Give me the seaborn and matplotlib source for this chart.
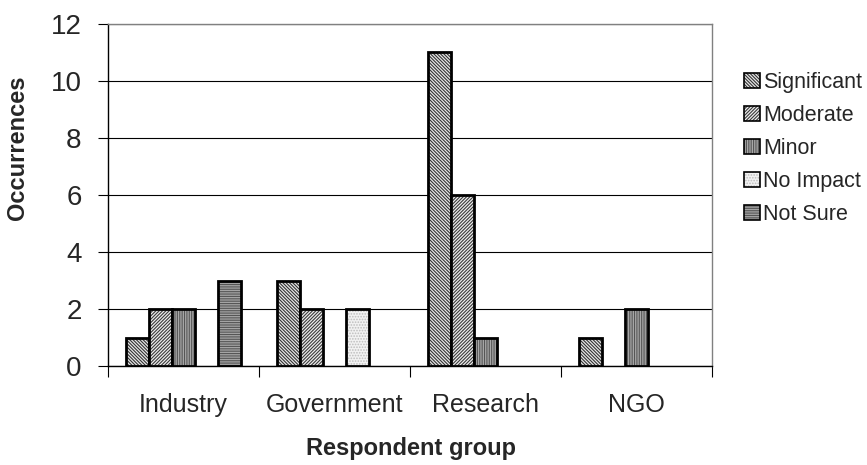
import matplotlib
matplotlib.use("Agg")
import matplotlib.pyplot as plt
import matplotlib.colors as mcolors
import seaborn as sns
import pandas as pd
from matplotlib.patches import Patch

# Survey responses: impact rating counts per respondent group
groups = ["Industry", "Government", "Research", "NGO"]
impacts = ["Significant", "Moderate", "Minor", "No Impact", "Not Sure"]
significant = [1, 3, 11, 1]
moderate = [2, 2, 6, 0]
minor = [2, 0, 1, 2]
no_impact = [0, 2, 0, 0]
not_sure = [3, 0, 0, 0]
y_ticks = [0, 2, 4, 6, 8, 10, 12]

counts = {"Significant": significant, "Moderate": moderate, "Minor": minor,
          "No Impact": no_impact, "Not Sure": not_sure}
df = pd.DataFrame({
    "group": [g for imp in impacts for g in groups],
    "impact": [imp for imp in impacts for _ in groups],
    "count": [v for imp in impacts for v in counts[imp]],
})

sns.set_theme(style="white")
plt.rcParams["font.family"] = ["Liberation Sans", "DejaVu Sans"]
plt.rcParams["hatch.linewidth"] = 0.8

# fill colour, hatch pattern, hatch colour per impact level
styles = {
    "Significant": ("#e6e6e6", "\\" * 10, "#333333"),
    "Moderate": ("#ededed", "/" * 10, "#3a3a3a"),
    "Minor": ("#a8a8a8", "|" * 7, "#555555"),
    "No Impact": ("#f2f2f2", "." * 6, "#bdbdbd"),
    "Not Sure": ("#a4a4a4", "-" * 7, "#555555"),
}


def paint(patch, face, hatch, hcolor):
    patch.set_facecolor(face)
    patch.set_edgecolor("black")
    patch.set_hatch(hatch)
    if hasattr(patch, "set_hatchcolor"):
        patch.set_hatchcolor(hcolor)
    else:
        patch._hatch_color = mcolors.to_rgba(hcolor)


W, H = 867, 465
fig = plt.figure(figsize=(W / 100, H / 100), dpi=100)
ax = fig.add_axes([108 / W, 1 - 366 / H, 604 / W, 342 / H])

sns.barplot(data=df, x="group", y="count", hue="impact", order=groups,
            hue_order=impacts, width=0.76, gap=0, ax=ax, legend=False,
            edgecolor="black", linewidth=2.0, saturation=1)

for imp, cont in zip(impacts, ax.containers):
    for bar in cont:
        paint(bar, *styles[imp])
        bar.set_zorder(3)
        if bar.get_height() == 0:
            bar.set_visible(False)

ax.set_ylim(0, 12)
ax.set_xlim(-0.5, len(groups) - 0.5)
ax.set_yticks(y_ticks)
ax.yaxis.grid(True, color="#000000", linewidth=0.8)
ax.set_axisbelow(True)

# category separators as outward ticks on the x axis
ax.set_xticks([i + 0.5 for i in range(-1, len(groups))], minor=True)
ax.set_xticks(range(len(groups)))
ax.set_xticklabels(groups, fontsize=18)
ax.tick_params(axis="x", which="major", length=0, pad=19.5)
ax.tick_params(axis="x", which="minor", length=8, width=0.8, color="black",
               direction="out", bottom=True)
ax.tick_params(axis="y", length=7, width=0.8, color="black", direction="out",
               left=True, labelsize=20, pad=12)

for side in ["left", "bottom"]:
    ax.spines[side].set_color("black")
    ax.spines[side].set_linewidth(1.0)
for side in ["top", "right"]:
    ax.spines[side].set_color("#808080")
    ax.spines[side].set_linewidth(1.0)

ax.set_xlabel("")
ax.set_ylabel("")
fig.text(411 / W, 1 - 455 / H, "Respondent group", fontsize=17,
         fontweight="bold", ha="center", va="baseline")
fig.text(18 / W, 1 - 148 / H, "Occurrences", fontsize=17, fontweight="bold",
         rotation=90, ha="center", va="center")

handles = []
for imp in impacts:
    p = Patch(linewidth=1.2, label=imp)
    paint(p, *styles[imp])
    handles.append(p)
fig.legend(handles=handles, loc="upper left", bbox_to_anchor=(744 / W, 1 - 72 / H),
           frameon=False, fontsize=15.5, handlelength=0.75, handleheight=0.7,
           handletextpad=0.15, labelspacing=0.56, borderpad=0, borderaxespad=0)

fig.savefig("out.png", dpi=100)
